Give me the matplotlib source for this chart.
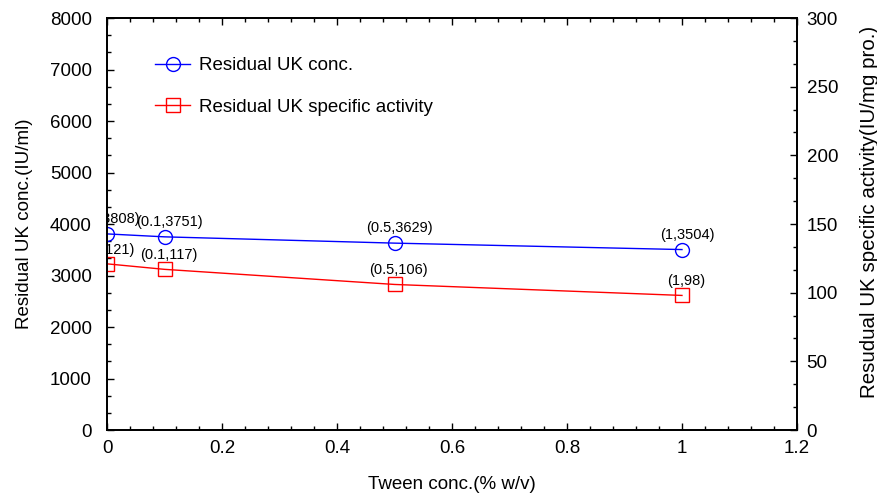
import matplotlib
matplotlib.use('Agg')
import matplotlib.pyplot as plt
from matplotlib.ticker import MultipleLocator, AutoMinorLocator

plt.rcParams['font.family'] = ['Liberation Sans', 'DejaVu Sans']
FS = 13.5

# data
tween = [0, 0.1, 0.5, 1]
uk_conc = [3808, 3751, 3629, 3504]
uk_act = [121, 117, 106, 98]

fig = plt.figure(figsize=(8.78, 4.96), dpi=100)
ax = fig.add_axes([0.1219, 0.133, 0.7858, 0.8307])
ax2 = ax.twinx()

l1, = ax.plot(tween, uk_conc, color='blue', lw=1, marker='o', ms=10,
              mfc='none', mec='blue', mew=1, label='Residual UK conc.')
l2, = ax2.plot(tween, uk_act, color='red', lw=1, marker='s', ms=10,
               mfc='none', mec='red', mew=1, label='Residual UK specific activity')

# point labels, clipped at the axes like the original
for x, y in zip(tween, uk_conc):
    ax.annotate('(%g,%d)' % (x, y), (x, y), xytext=(5, 15), textcoords='offset pixels',
                ha='center', va='center', fontsize=10.5, annotation_clip=False, clip_on=True)
for x, y in zip(tween, uk_act):
    ax2.annotate('(%g,%d)' % (x, y), (x, y), xytext=(4, 14), textcoords='offset pixels',
                 ha='center', va='center', fontsize=10.5, annotation_clip=False, clip_on=True)

ax.set_xlim(0, 1.2)
ax.set_ylim(0, 8000)
ax2.set_ylim(0, 300)
ax.set_xticks([0, 0.2, 0.4, 0.6, 0.8, 1, 1.2])
ax.set_xticklabels(['0', '0.2', '0.4', '0.6', '0.8', '1', '1.2'])
ax.xaxis.set_minor_locator(AutoMinorLocator(5))
ax.yaxis.set_major_locator(MultipleLocator(1000))
ax.yaxis.set_minor_locator(AutoMinorLocator(3))
ax2.yaxis.set_major_locator(MultipleLocator(50))
ax2.yaxis.set_minor_locator(AutoMinorLocator(3))

ax.tick_params(which='both', direction='in', labelsize=FS, top=True, width=1)
ax.tick_params(which='major', length=5)
ax.tick_params(which='minor', length=3)
ax.tick_params(axis='y', right=False, pad=11)
ax.tick_params(axis='x', pad=7)
ax2.tick_params(which='both', direction='in', labelsize=FS, width=1, pad=7)
ax2.tick_params(which='major', length=5)
ax2.tick_params(which='minor', length=3)
for a in (ax, ax2):
    for s in a.spines.values():
        s.set_linewidth(1.3)

ax.set_xlabel('Tween conc.(% w/v)', fontsize=FS, labelpad=14)
ax.set_ylabel('Residual UK conc.(IU/ml)', fontsize=FS, labelpad=12)
ax2.set_ylabel('Resudual UK specific activity(IU/mg pro.)', fontsize=14.8, labelpad=15.5)
ax2.yaxis.label.set_y(0.53)

ax.legend([l1, l2], [l1.get_label(), l2.get_label()], loc='upper left',
          bbox_to_anchor=(0.07, 0.905), frameon=False, fontsize=FS,
          borderpad=0, borderaxespad=0,
          labelspacing=1.3, handlelength=1.85, handletextpad=0.5)

fig.savefig('out.png', dpi=100)
